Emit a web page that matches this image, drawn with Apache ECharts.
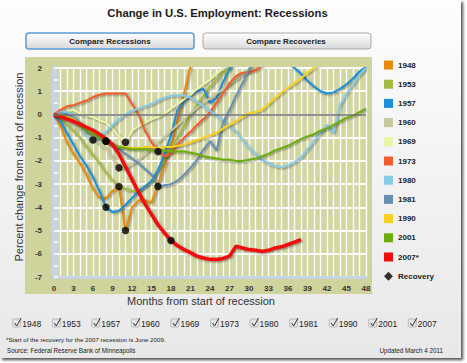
<!DOCTYPE html>
<html><head><meta charset="utf-8">
<script src="https://cdn.jsdelivr.net/npm/echarts/dist/echarts.min.js"></script>
<style>html,body{margin:0;padding:0;background:#fff}#c{width:467px;height:363px}</style>
</head><body><div id="c"></div>
<script>
// ---- data (percent change in employment from start of recession, by month) ----
const categories = ['1948','1953','1957','1960','1969','1973','1980','1981','1990','2001','2007*'];
const s1948 = [0,-0.5,-1.2,-1.7,-2.1,-2.6,-3.2,-3.6,-3.6,-3.3,-3.1,-5.0,-4.0,-3.7,-3.7,-3.8,-3.0,-2.2,-1.4,-0.3,0.9,2.1,3.0];
const s1953 = [0,-0.2,-0.45,-0.7,-1.0,-1.4,-1.75,-2.1,-2.5,-2.85,-3.1,-3.2,-3.3,-3.3,-3.1,-2.9,-2.4,-1.9,-1.5,-1.0,-0.5,0.0,0.4,0.8,1.2,1.5,1.8,2.0,2.3];
const s1957 = [0,-0.3,-0.8,-1.3,-1.8,-2.2,-2.7,-3.3,-4.0,-4.2,-4.15,-3.9,-3.6,-3.3,-3.1,-2.85,-2.4,-1.7,-0.9,0.2,0.55,0.85,1.0,1.1,0.5,0.7,1.4,1.95,2.4,2.7,2.9,3.0,3.1,3.0,2.8,2.55,2.25,2.0,1.75,1.45,1.2,1.0,0.9,0.95,1.1,1.3,1.55,1.85,2.05];
const s1960 = [0,-0.1,-0.25,-0.45,-0.65,-0.85,-1.05,-1.25,-1.45,-1.85,-2.3,-2.3,-2.15,-1.95,-1.7,-1.45,-1.2,-0.95,-0.7,-0.45,-0.2,0.05,0.3,0.5,0.7,0.9,1.1,1.3,1.5,1.7,1.9,2.1,2.3];
const s1969 = [0,0.1,0.15,0.2,0.05,-0.05,-0.1,-0.25,-0.35,-0.6,-0.95,-1.2,-0.7,-0.5,-0.35,-0.2,-0.1,0.05,0.25,0.45,0.65,0.85,1.1,1.3,1.5,1.75,2.0,2.2];
const s1973 = [0,0.2,0.35,0.4,0.5,0.6,0.75,0.85,0.9,0.9,0.9,0.9,0.45,0.0,-0.7,-1.2,-1.6,-1.8,-1.7,-1.3,-1.0,-0.75,-0.45,-0.2,0.1,0.5,0.9,1.35,1.65,1.8,1.82,1.9,2.1,2.3];
const s1980 = [0,0.1,0.1,0.0,-0.4,-0.9,-1.1,-1.0,-0.75,-0.45,-0.2,0.0,0.15,0.25,0.35,0.45,0.6,0.72,0.8,0.82,0.82,0.72,0.55,0.35,0.15,-0.05,-0.25,-0.5,-0.75,-1.1,-1.45,-1.7,-1.95,-2.1,-2.22,-2.28,-2.2,-2.05,-1.85,-1.5,-1.15,-0.8,-0.45,-0.8,0.4,0.9,1.3,1.7,2.0];
const s1981 = [0,0.05,0.0,-0.15,-0.4,-0.7,-0.85,-1.0,-1.15,-1.3,-1.5,-1.7,-1.9,-2.1,-2.35,-2.6,-3.1,-3.05,-3.0,-2.85,-2.6,-2.3,-1.95,-1.5,-1.15,-1.55,-0.35,0.2,0.8,1.35,1.95,2.4];
const s1990 = [0,0.0,-0.1,-0.2,-0.4,-0.6,-0.8,-1.0,-1.15,-1.3,-1.4,-1.4,-1.45,-1.45,-1.4,-1.4,-1.45,-1.4,-1.4,-1.35,-1.3,-1.2,-1.1,-1.0,-0.9,-0.8,-0.6,-0.45,-0.3,-0.1,0.05,0.1,0.2,0.45,0.7,0.95,1.15,1.35,1.55,1.8,2.0,2.2];
const s2001 = [0,-0.05,-0.15,-0.3,-0.5,-0.7,-0.85,-1.0,-1.15,-1.3,-1.4,-1.45,-1.5,-1.5,-1.5,-1.55,-1.55,-1.55,-1.6,-1.6,-1.6,-1.65,-1.7,-1.8,-1.85,-1.9,-1.95,-1.95,-2.0,-2.0,-1.95,-1.9,-1.8,-1.7,-1.55,-1.45,-1.35,-1.2,-1.05,-0.95,-0.85,-0.7,-0.6,-0.45,-0.3,-0.15,-0.05,0.1,0.25];
const s2007 = [0,-0.1,-0.2,-0.3,-0.42,-0.55,-0.68,-0.85,-1.05,-1.3,-1.7,-2.25,-2.8,-3.35,-3.85,-4.3,-4.75,-5.1,-5.43,-5.65,-5.82,-5.95,-6.1,-6.18,-6.24,-6.25,-6.2,-6.1,-5.67,-5.75,-5.82,-5.85,-5.9,-5.85,-5.75,-5.7,-5.6,-5.5,-5.39];
const recoveryMonth = [11,10,8,10,11,16,6,16,8,8,18];
const seriesValues = [s1948,s1953,s1957,s1960,s1969,s1973,s1980,s1981,s1990,s2001,s2007];

// ---- styling ----
const colors = ['#e98a0f','#a3bb43','#1b8fd9','#c8c89c','#e8f5a5','#f25c2a','#86cbe3','#6690b3','#f9d01a','#6cac0c','#f20c0c'];
const FF = '"Liberation Sans", Arial, sans-serif';

const chart = echarts.init(document.getElementById('c'), null, {renderer: 'svg'});

const lineSeries = categories.map((n, i) => ({
  name: n, type: 'line', symbol: 'none', silent: true, clip: true,
  data: seriesValues[i].map((v, m) => [m, v]),
  lineStyle: {color: colors[i], width: n === '2007*' ? 3.5 : 2,
    shadowColor: 'rgba(0,0,0,0.45)', shadowBlur: 2, shadowOffsetX: 1, shadowOffsetY: 1},
  itemStyle: {color: colors[i]}
}));

const zeroSeries = {
  name: 'zero', type: 'line', data: [], silent: true, z: 1,
  markLine: {silent: true, symbol: 'none', label: {show: false},
    lineStyle: {color: '#6d6d6d', width: 1.5, type: 'solid'}, data: [{yAxis: 0}]}
};

const recoverySeries = {
  name: 'Recovery', type: 'scatter', z: 10, symbol: 'circle', symbolSize: 7.5, silent: true,
  itemStyle: {color: '#000'},
  data: categories.map((n, i) => [recoveryMonth[i], seriesValues[i][recoveryMonth[i]]])
};

// checkboxes row
const checkEls = [];
categories.forEach((n, i) => {
  const x = 12.7 + i * 39.56;
  checkEls.push({type: 'rect', shape: {x: x, y: 319, width: 8, height: 8, r: 1},
    style: {fill: '#e4e4e4', stroke: '#b0b0b0', lineWidth: 0.8}});
  checkEls.push({type: 'polyline', shape: {points: [[x + 2, 323], [x + 4, 326], [x + 8.5, 318]]},
    style: {stroke: '#333', lineWidth: 1, fill: null}});
  checkEls.push({type: 'text', x: x + 9.5, y: 323.5,
    style: {text: n.replace('*', ''), fontSize: 8.5, fontFamily: FF, fill: '#222', align: 'left', verticalAlign: 'middle'}});
});

const btnGrad = () => new echarts.graphic.LinearGradient(0, 0, 0, 1, [{offset: 0, color: '#ffffff'}, {offset: 1, color: '#d9d9d9'}]);

chart.setOption({
  animation: false,
  grid: {left: 54, right: 101, top: 68, bottom: 86, show: true, backgroundColor: '#d2d6a3', borderWidth: 0},
  xAxis: {
    type: 'value', min: 0, max: 48, interval: 3,
    axisLine: {show: true, onZero: false, lineStyle: {color: '#c7d4e6', width: 3}},
    axisTick: {show: false},
    axisLabel: {fontSize: 8, fontWeight: 'bold', color: '#333', margin: 7, fontFamily: FF},
    splitLine: {show: true, lineStyle: {color: '#ffffff', width: 1.4}},
    minorTick: {show: false, splitNumber: 3},
    minorSplitLine: {show: true, lineStyle: {color: '#ffffff', width: 1.4}}
  },
  yAxis: {
    type: 'value', min: -7, max: 2, interval: 1, offset: 3,
    axisLine: {show: true, lineStyle: {color: '#c7d4e6', width: 5}},
    axisTick: {show: true, inside: true, length: 4, lineStyle: {color: '#fff', width: 1.5}},
    minorTick: {show: true, splitNumber: 2, length: 4, lineStyle: {color: '#fff', width: 1.5}},
    axisLabel: {fontSize: 8, fontWeight: 'bold', color: '#333', margin: 9, fontFamily: FF},
    splitLine: {show: true, lineStyle: {color: '#ffffff', width: 2}}
  },
  legend: {
    orient: 'vertical', left: 379, top: 55.5, itemWidth: 9, itemHeight: 9, itemGap: 10.2,
    selectedMode: false, icon: 'rect',
    textStyle: {fontSize: 8, fontWeight: 'bold', color: '#222', lineHeight: 9, fontFamily: FF},
    data: categories.map(n => ({name: n, icon: 'rect'})).concat([{name: 'Recovery', icon: 'diamond'}])
  },
  graphic: [
    {type: 'rect', z: -20, silent: true, shape: {x: 0, y: 0, width: 461, height: 358},
      style: {fill: new echarts.graphic.LinearGradient(0, 0, 0, 1, [{offset: 0, color: '#fdfdfd'}, {offset: 1, color: '#e8e8e8'}]),
        shadowColor: 'rgba(0,0,0,0.7)', shadowBlur: 3, shadowOffsetX: 2, shadowOffsetY: 2}},
    {type: 'rect', z: -19, silent: true, shape: {x: 25, y: 57, width: 347, height: 237},
      style: {fill: '#cfd49d'}},
    {type: 'text', x: 217.5, y: 13, style: {text: 'Change in U.S. Employment: Recessions', fontSize: 11.3, fontWeight: 'bold', fontFamily: FF, fill: '#1a1a1a', align: 'center', verticalAlign: 'middle'}},
    {type: 'rect', shape: {x: 26, y: 33, width: 168, height: 16, r: 3}, style: {fill: btnGrad(), stroke: '#5b9bd5', lineWidth: 1.5}},
    {type: 'text', x: 110, y: 41, style: {text: 'Compare Recessions', fontSize: 8, fontWeight: 'bold', fontFamily: FF, fill: '#222', align: 'center', verticalAlign: 'middle'}},
    {type: 'rect', shape: {x: 203, y: 33, width: 168, height: 16, r: 3}, style: {fill: btnGrad(), stroke: '#a8a8a8', lineWidth: 1}},
    {type: 'text', x: 286, y: 41, style: {text: 'Compare Recoveries', fontSize: 8, fontWeight: 'bold', fontFamily: FF, fill: '#222', align: 'center', verticalAlign: 'middle'}},
    {type: 'text', x: 19, y: 167, rotation: Math.PI / 2, style: {text: 'Percent change from start of recession', fontSize: 11, fontFamily: FF, fill: '#333', align: 'center', verticalAlign: 'middle'}},
    {type: 'text', x: 201, y: 301, style: {text: 'Months from start of recession', fontSize: 11, fontFamily: FF, fill: '#333', align: 'center', verticalAlign: 'middle'}},
    {type: 'text', x: 6, y: 339, style: {text: '*Start of the recovery for the 2007 recession is June 2009.', fontSize: 6.2, fontFamily: FF, fill: '#222', align: 'left', verticalAlign: 'middle'}},
    {type: 'text', x: 7, y: 350, style: {text: 'Source: Federal Reserve Bank of Minneapolis', fontSize: 6.3, fontFamily: FF, fill: '#222', align: 'left', verticalAlign: 'middle'}},
    {type: 'text', x: 443, y: 350, style: {text: 'Updated March 4 2011', fontSize: 6.3, fontFamily: FF, fill: '#222', align: 'right', verticalAlign: 'middle'}}
  ].concat(checkEls),
  series: [zeroSeries].concat(lineSeries).concat([recoverySeries])
});
</script></body></html>
